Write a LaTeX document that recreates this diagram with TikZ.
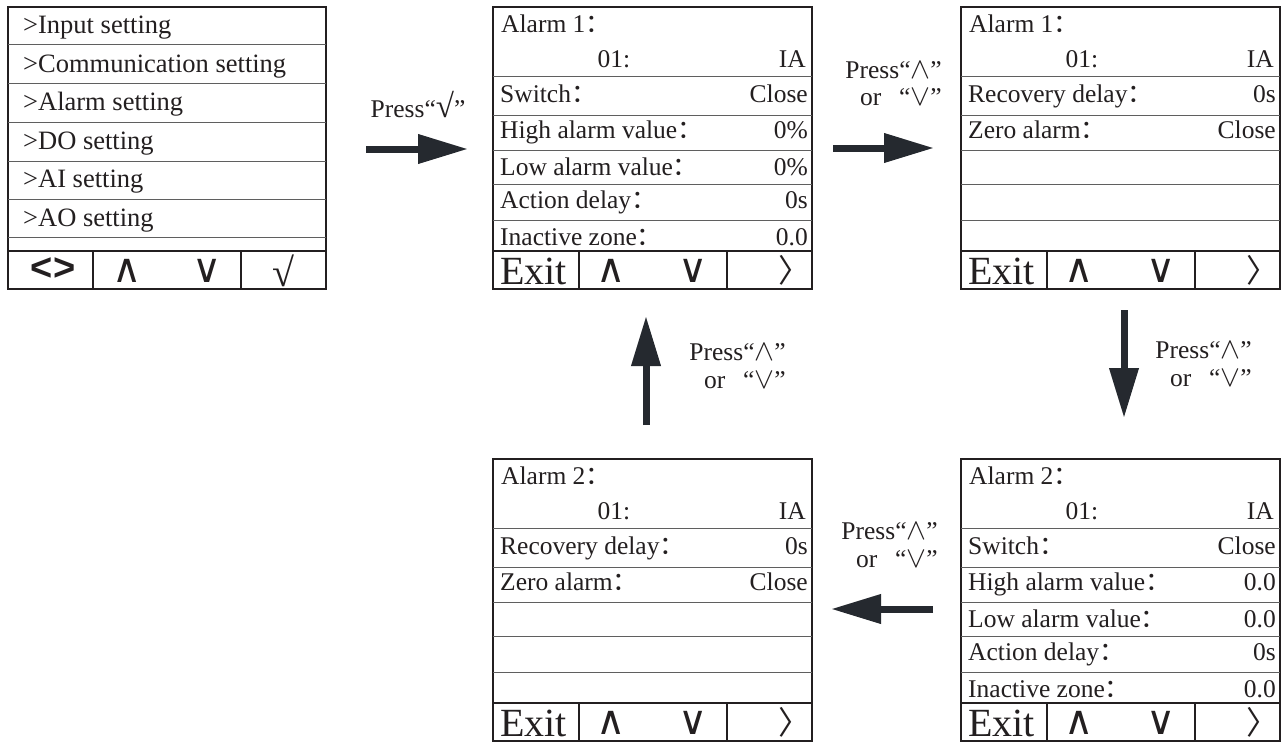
\documentclass[tikz,border=0pt]{standalone}
\usepackage{fontspec}
\usepackage{graphicx}
\setmainfont{Liberation Serif}
\newfontfamily\cjk{Noto Sans CJK SC}
\newfontfamily\symfont{DejaVu Sans}
\newfontfamily\sansb{Liberation Sans}
\usetikzlibrary{arrows.meta,calc}
\definecolor{ink}{RGB}{35,31,32}
\definecolor{rulec}{RGB}{95,95,95}
\definecolor{arrowc}{RGB}{37,41,47}
\newcommand\fc{{\cjk ：}}
\newcommand\qwedge{\scalebox{1.2}{$\wedge$}}
\newcommand\qvee{\scalebox{1.2}{$\vee$}}
\tikzset{
  screen/.style={draw=ink, line width=1.2pt, inner sep=0pt, outer sep=0pt,
    minimum width=319pt, minimum height=282pt},
  rowline/.style={draw=rulec, line width=1pt},
  frameline/.style={draw=ink, line width=1.1pt},
  lab/.style={inner sep=0pt, text=ink, font=\fontsize{25.5}{28}\selectfont},
  menulab/.style={inner sep=0pt, text=ink, font=\fontsize{26.5}{28}\selectfont},
  bigtxt/.style={inner sep=0pt, text=ink, font=\fontsize{40}{40}\selectfont},
  keysym/.style={inner sep=0pt, text=ink, font=\symfont\fontsize{40}{40}\selectfont},
  chev/.style={inner sep=0pt, text=ink, font=\cjk\fontsize{32}{32}\selectfont},
  bigarrow/.style={draw=arrowc, line width=7pt, -{Triangle[length=50pt,width=28pt]}},
}
\newcommand\AlarmScreen[4]{%
  \node[screen, anchor=north west] (#1) at (#2,#3) {};
  \begin{scope}[shift={(#2,#3)}]
    \foreach \yy in {69,108,143,177,213} \draw[rowline] (0,\yy) -- (319,\yy);
    \draw[frameline] (0,244) -- (319,244);
    \draw[frameline] (86,244) -- (86,282);
    \draw[frameline] (234,244) -- (234,282);
    \node[lab, anchor=base west] (#1-title) at (8,25) {Alarm #4\fc};
    \node[lab, anchor=base] (#1-ch) at (121,60) {01:};
    \node[lab, anchor=base east] (#1-ia) at (313,60) {IA};
    \node[bigtxt, anchor=base west] (#1-exit) at (7,277) {Exit};
    \node[keysym] (#1-up) at (118,264) {∧};
    \node[keysym] (#1-dn) at (200,264) {∨};
    \node[chev] (#1-next) at (301,263) {〉};
  \end{scope}}
\newcommand\ScrRow[6]{% panel name, L, T, baseline, left, right
  \node[lab, anchor=base west] (#1-l#4) at ($(#2,#3)+(7,#4)$) {#5};
  \node[lab, anchor=base east] (#1-r#4) at ($(#2,#3)+(315,#4)$) {#6};}
\begin{document}
\begin{tikzpicture}[x=1pt,y=-1pt]
\useasboundingbox (0,0) rectangle (1285,742);
\fill[white] (0,0) rectangle (1285,742);

% ---------- menu screen ----------
\node[screen, anchor=north west, minimum width=318pt] (menu) at (8,7) {};
\begin{scope}[shift={(8,7)}]
  \foreach \yy in {37,76,115,154,192,230} \draw[rowline] (0,\yy) -- (318,\yy);
  \draw[frameline] (0,244) -- (318,244);
  \draw[frameline] (85,244) -- (85,282);
  \draw[frameline] (233,244) -- (233,282);
  \node[menulab, anchor=base west] (m1) at (15,26) {>Input setting};
  \node[menulab, anchor=base west] (m2) at (15,65) {>Communication setting};
  \node[menulab, anchor=base west] (m3) at (15,103) {>Alarm setting};
  \node[menulab, anchor=base west] (m4) at (15,142) {>DO setting};
  \node[menulab, anchor=base west] (m5) at (15,180) {>AI setting};
  \node[menulab, anchor=base west] (m6) at (15,219) {>AO setting};
  \node[inner sep=0pt, text=ink, font=\sansb\bfseries\fontsize{38}{38}\selectfont] (mlr) at (45,262) {<>};
  \node[keysym] (mup) at (119,264) {∧};
  \node[keysym] (mdn) at (199,264) {∨};
  \node[inner sep=0pt, text=ink, font=\fontsize{40}{40}\selectfont] (mok) at (275,264) {√};
\end{scope}

% ---------- alarm screens ----------
\AlarmScreen{s1}{493}{7}{1}
\ScrRow{s1}{493}{7}{95}{Switch\fc}{Close}
\ScrRow{s1}{493}{7}{131}{High alarm value\fc}{0\%}
\ScrRow{s1}{493}{7}{168}{Low alarm value\fc}{0\%}
\ScrRow{s1}{493}{7}{201}{Action delay\fc}{0s}
\ScrRow{s1}{493}{7}{238}{Inactive zone\fc}{0.0}

\AlarmScreen{s2}{961}{7}{1}
\ScrRow{s2}{961}{7}{95}{Recovery delay\fc}{0s}
\ScrRow{s2}{961}{7}{131}{Zero alarm\fc}{Close}

\AlarmScreen{s3}{961}{459}{2}
\ScrRow{s3}{961}{459}{95}{Switch\fc}{Close}
\ScrRow{s3}{961}{459}{131}{High alarm value\fc}{0.0}
\ScrRow{s3}{961}{459}{168}{Low alarm value\fc}{0.0}
\ScrRow{s3}{961}{459}{201}{Action delay\fc}{0s}
\ScrRow{s3}{961}{459}{238}{Inactive zone\fc}{0.0}

\AlarmScreen{s4}{493}{459}{2}
\ScrRow{s4}{493}{459}{95}{Recovery delay\fc}{0s}
\ScrRow{s4}{493}{459}{131}{Zero alarm\fc}{Close}

% ---------- arrows ----------
\coordinate (a1s) at (366,149); \coordinate (a1e) at (468,149);
\coordinate (a2s) at (833,148); \coordinate (a2e) at (934,148);
\coordinate (a3s) at (1124,310); \coordinate (a3e) at (1124,418);
\coordinate (a4s) at (646,425); \coordinate (a4e) at (646,316);
\coordinate (a5s) at (933,609); \coordinate (a5e) at (831,609);
\draw[bigarrow] (a1s) -- (a1e);
\draw[bigarrow] (a2s) -- (a2e);
\draw[bigarrow] (a3s) -- (a3e);
\draw[bigarrow] (a4s) -- (a4e);
\draw[bigarrow] (a5s) -- (a5e);

% ---------- labels ----------
\node[lab, anchor=base] (t1) at (418,117) {Press“\scalebox{1.3}{√}”};
\node[lab, anchor=base east] (t2a) at (942,78) {Press“\qwedge”};
\node[lab, anchor=base east] (t2b) at (942,105) {or\hspace{0.7em}“\qvee”};
\node[lab, anchor=base east] (t3a) at (1252,358) {Press“\qwedge”};
\node[lab, anchor=base east] (t3b) at (1252,386) {or\hspace{0.7em}“\qvee”};
\node[lab, anchor=base east] (t4a) at (786,360) {Press“\qwedge”};
\node[lab, anchor=base east] (t4b) at (786,388) {or\hspace{0.7em}“\qvee”};
\node[lab, anchor=base east] (t5a) at (938,539) {Press“\qwedge”};
\node[lab, anchor=base east] (t5b) at (938,567) {or\hspace{0.7em}“\qvee”};
\end{tikzpicture}
\end{document}
